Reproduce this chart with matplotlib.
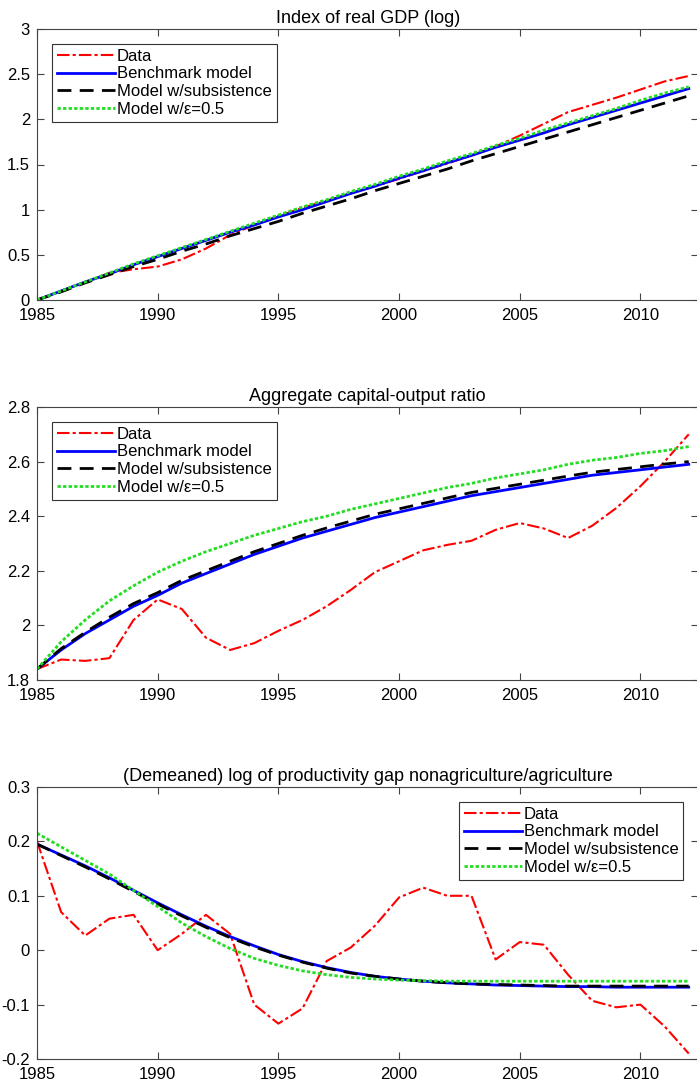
import matplotlib.pyplot as plt
import numpy as np

years = np.arange(1985, 2013)

gdp_data = [0, 0.1, 0.2, 0.3, 0.34, 0.37, 0.45, 0.57, 0.72, 0.83, 0.93, 1.02, 1.1, 1.18,
            1.26, 1.34, 1.43, 1.51, 1.6, 1.7, 1.82, 1.95, 2.08, 2.16, 2.24, 2.33, 2.42, 2.48]
gdp_bench = [0, 0.1, 0.2, 0.29, 0.39, 0.48, 0.57, 0.66, 0.75, 0.83, 0.92, 1.0, 1.09, 1.18,
             1.26, 1.35, 1.43, 1.52, 1.6, 1.69, 1.77, 1.85, 1.94, 2.02, 2.1, 2.18, 2.26, 2.34]
gdp_subs = [0, 0.09, 0.19, 0.28, 0.37, 0.45, 0.54, 0.62, 0.71, 0.79, 0.87, 0.96, 1.04, 1.12,
            1.21, 1.29, 1.37, 1.45, 1.54, 1.62, 1.7, 1.78, 1.86, 1.94, 2.02, 2.1, 2.18, 2.26]
gdp_eps = [0, 0.1, 0.2, 0.3, 0.4, 0.49, 0.58, 0.67, 0.76, 0.85, 0.94, 1.03, 1.11, 1.2,
           1.28, 1.37, 1.45, 1.54, 1.62, 1.71, 1.79, 1.88, 1.96, 2.04, 2.12, 2.21, 2.29, 2.36]

ky_data = [1.84, 1.875, 1.87, 1.88, 2.02, 2.095, 2.06, 1.955, 1.91, 1.935, 1.98, 2.02, 2.07, 2.13,
           2.195, 2.235, 2.275, 2.295, 2.31, 2.35, 2.375, 2.355, 2.32, 2.365, 2.43, 2.51, 2.6, 2.7]
ky_bench = [1.84, 1.91, 1.97, 2.02, 2.07, 2.11, 2.155, 2.19, 2.225, 2.26, 2.29, 2.32, 2.345, 2.37,
            2.395, 2.415, 2.435, 2.455, 2.475, 2.49, 2.505, 2.52, 2.535, 2.55, 2.56, 2.57, 2.58, 2.59]
ky_subs = [1.84, 1.915, 1.975, 2.03, 2.08, 2.12, 2.165, 2.2, 2.235, 2.27, 2.3, 2.33, 2.357, 2.382,
           2.407, 2.427, 2.447, 2.467, 2.487, 2.502, 2.517, 2.532, 2.547, 2.561, 2.571, 2.581, 2.591, 2.6]
ky_eps = [1.84, 1.94, 2.02, 2.09, 2.145, 2.195, 2.235, 2.27, 2.3, 2.33, 2.355, 2.38, 2.4, 2.425,
          2.445, 2.465, 2.485, 2.505, 2.52, 2.54, 2.555, 2.57, 2.59, 2.605, 2.615, 2.63, 2.64, 2.655]

gap_data = [0.2, 0.07, 0.027, 0.058, 0.065, 0.0, 0.03, 0.065, 0.03, -0.1, -0.135, -0.107, -0.02, 0.005,
            0.045, 0.097, 0.115, 0.1, 0.1, -0.017, 0.015, 0.01, -0.045, -0.093, -0.105, -0.1, -0.14, -0.19]
gap_bench = [0.195, 0.175, 0.155, 0.133, 0.11, 0.087, 0.065, 0.044, 0.025, 0.008, -0.008, -0.021, -0.032, -0.041,
             -0.048, -0.053, -0.057, -0.06, -0.062, -0.064, -0.065, -0.066, -0.067, -0.067, -0.068, -0.068, -0.068, -0.068]
gap_subs = [0.195, 0.174, 0.153, 0.131, 0.108, 0.085, 0.063, 0.042, 0.023, 0.006, -0.009, -0.022, -0.033, -0.042,
            -0.048, -0.053, -0.057, -0.06, -0.062, -0.063, -0.064, -0.065, -0.066, -0.066, -0.066, -0.066, -0.066, -0.066]
gap_eps = [0.215, 0.19, 0.165, 0.14, 0.11, 0.08, 0.05, 0.025, 0.003, -0.015, -0.028, -0.038, -0.045, -0.05,
           -0.053, -0.055, -0.056, -0.057, -0.057, -0.057, -0.057, -0.057, -0.057, -0.057, -0.057, -0.057, -0.057, -0.057]

labels = ['Data', 'Benchmark model', 'Model w/subsistence', 'Model w/\u03b5=0.5']
titles = ['Index of real GDP (log)', 'Aggregate capital-output ratio',
          '(Demeaned) log of productivity gap nonagriculture/agriculture']
panels = [(gdp_data, gdp_bench, gdp_subs, gdp_eps),
          (ky_data, ky_bench, ky_subs, ky_eps),
          (gap_data, gap_bench, gap_subs, gap_eps)]
ylims = [(0, 3), (1.8, 2.8), (-0.2, 0.3)]
yticks = [np.arange(0, 3.01, 0.5), np.arange(1.8, 2.81, 0.2), np.arange(-0.2, 0.31, 0.1)]
ytl = [['0', '0.5', '1', '1.5', '2', '2.5', '3'],
       ['1.8', '2', '2.2', '2.4', '2.6', '2.8'],
       ['-0.2', '-0.1', '0', '0.1', '0.2', '0.3']]
tops = [29, 407, 787]
bots = [300, 680, 1059]
leg_locs = ['upper left', 'upper left', 'upper right']

plt.rcParams['font.family'] = ['Liberation Sans', 'DejaVu Sans']
W, H = 697, 1090
fig = plt.figure(figsize=(W / 100, H / 100), dpi=100)

for i in range(3):
    ax = fig.add_axes([37 / W, 1 - bots[i] / H, (W - 37) / W + 0.002, (bots[i] - tops[i]) / H])
    d, b, s, e = panels[i]
    ax.plot(years, d, color='red', lw=1.5, dashes=(6, 1.5, 1.5, 1.5), label=labels[0])
    ax.plot(years, b, color='blue', ls='-', lw=2, label=labels[1])
    ax.plot(years, s, color='black', lw=2, dashes=(5, 3), label=labels[2])
    ax.plot(years, e, color='#22dd22', lw=2, dashes=(1.2, 0.8), label=labels[3])
    ax.set_xlim(1985, 2012.4)
    ax.set_ylim(*ylims[i])
    ax.set_xticks([1985, 1990, 1995, 2000, 2005, 2010])
    ax.set_yticks(yticks[i])
    ax.set_yticklabels(ytl[i])
    ax.tick_params(direction='in', top=True, right=True, labelsize=12, length=5, color='#444444')
    ax.tick_params(axis='x', pad=6)
    ax.tick_params(axis='y', pad=5)
    for sp in ax.spines.values():
        sp.set_color('#444444')
    ax.set_title(titles[i], fontsize=13, pad=4)
    leg = ax.legend(loc=leg_locs[i], fontsize=12, fancybox=False, framealpha=1,
                    edgecolor='#333333', handlelength=3.5, handletextpad=0.1,
                    borderaxespad=0.9, labelspacing=0.15, borderpad=0.3)
    leg.get_frame().set_linewidth(0.8)

fig.savefig('out.png', dpi=100)
